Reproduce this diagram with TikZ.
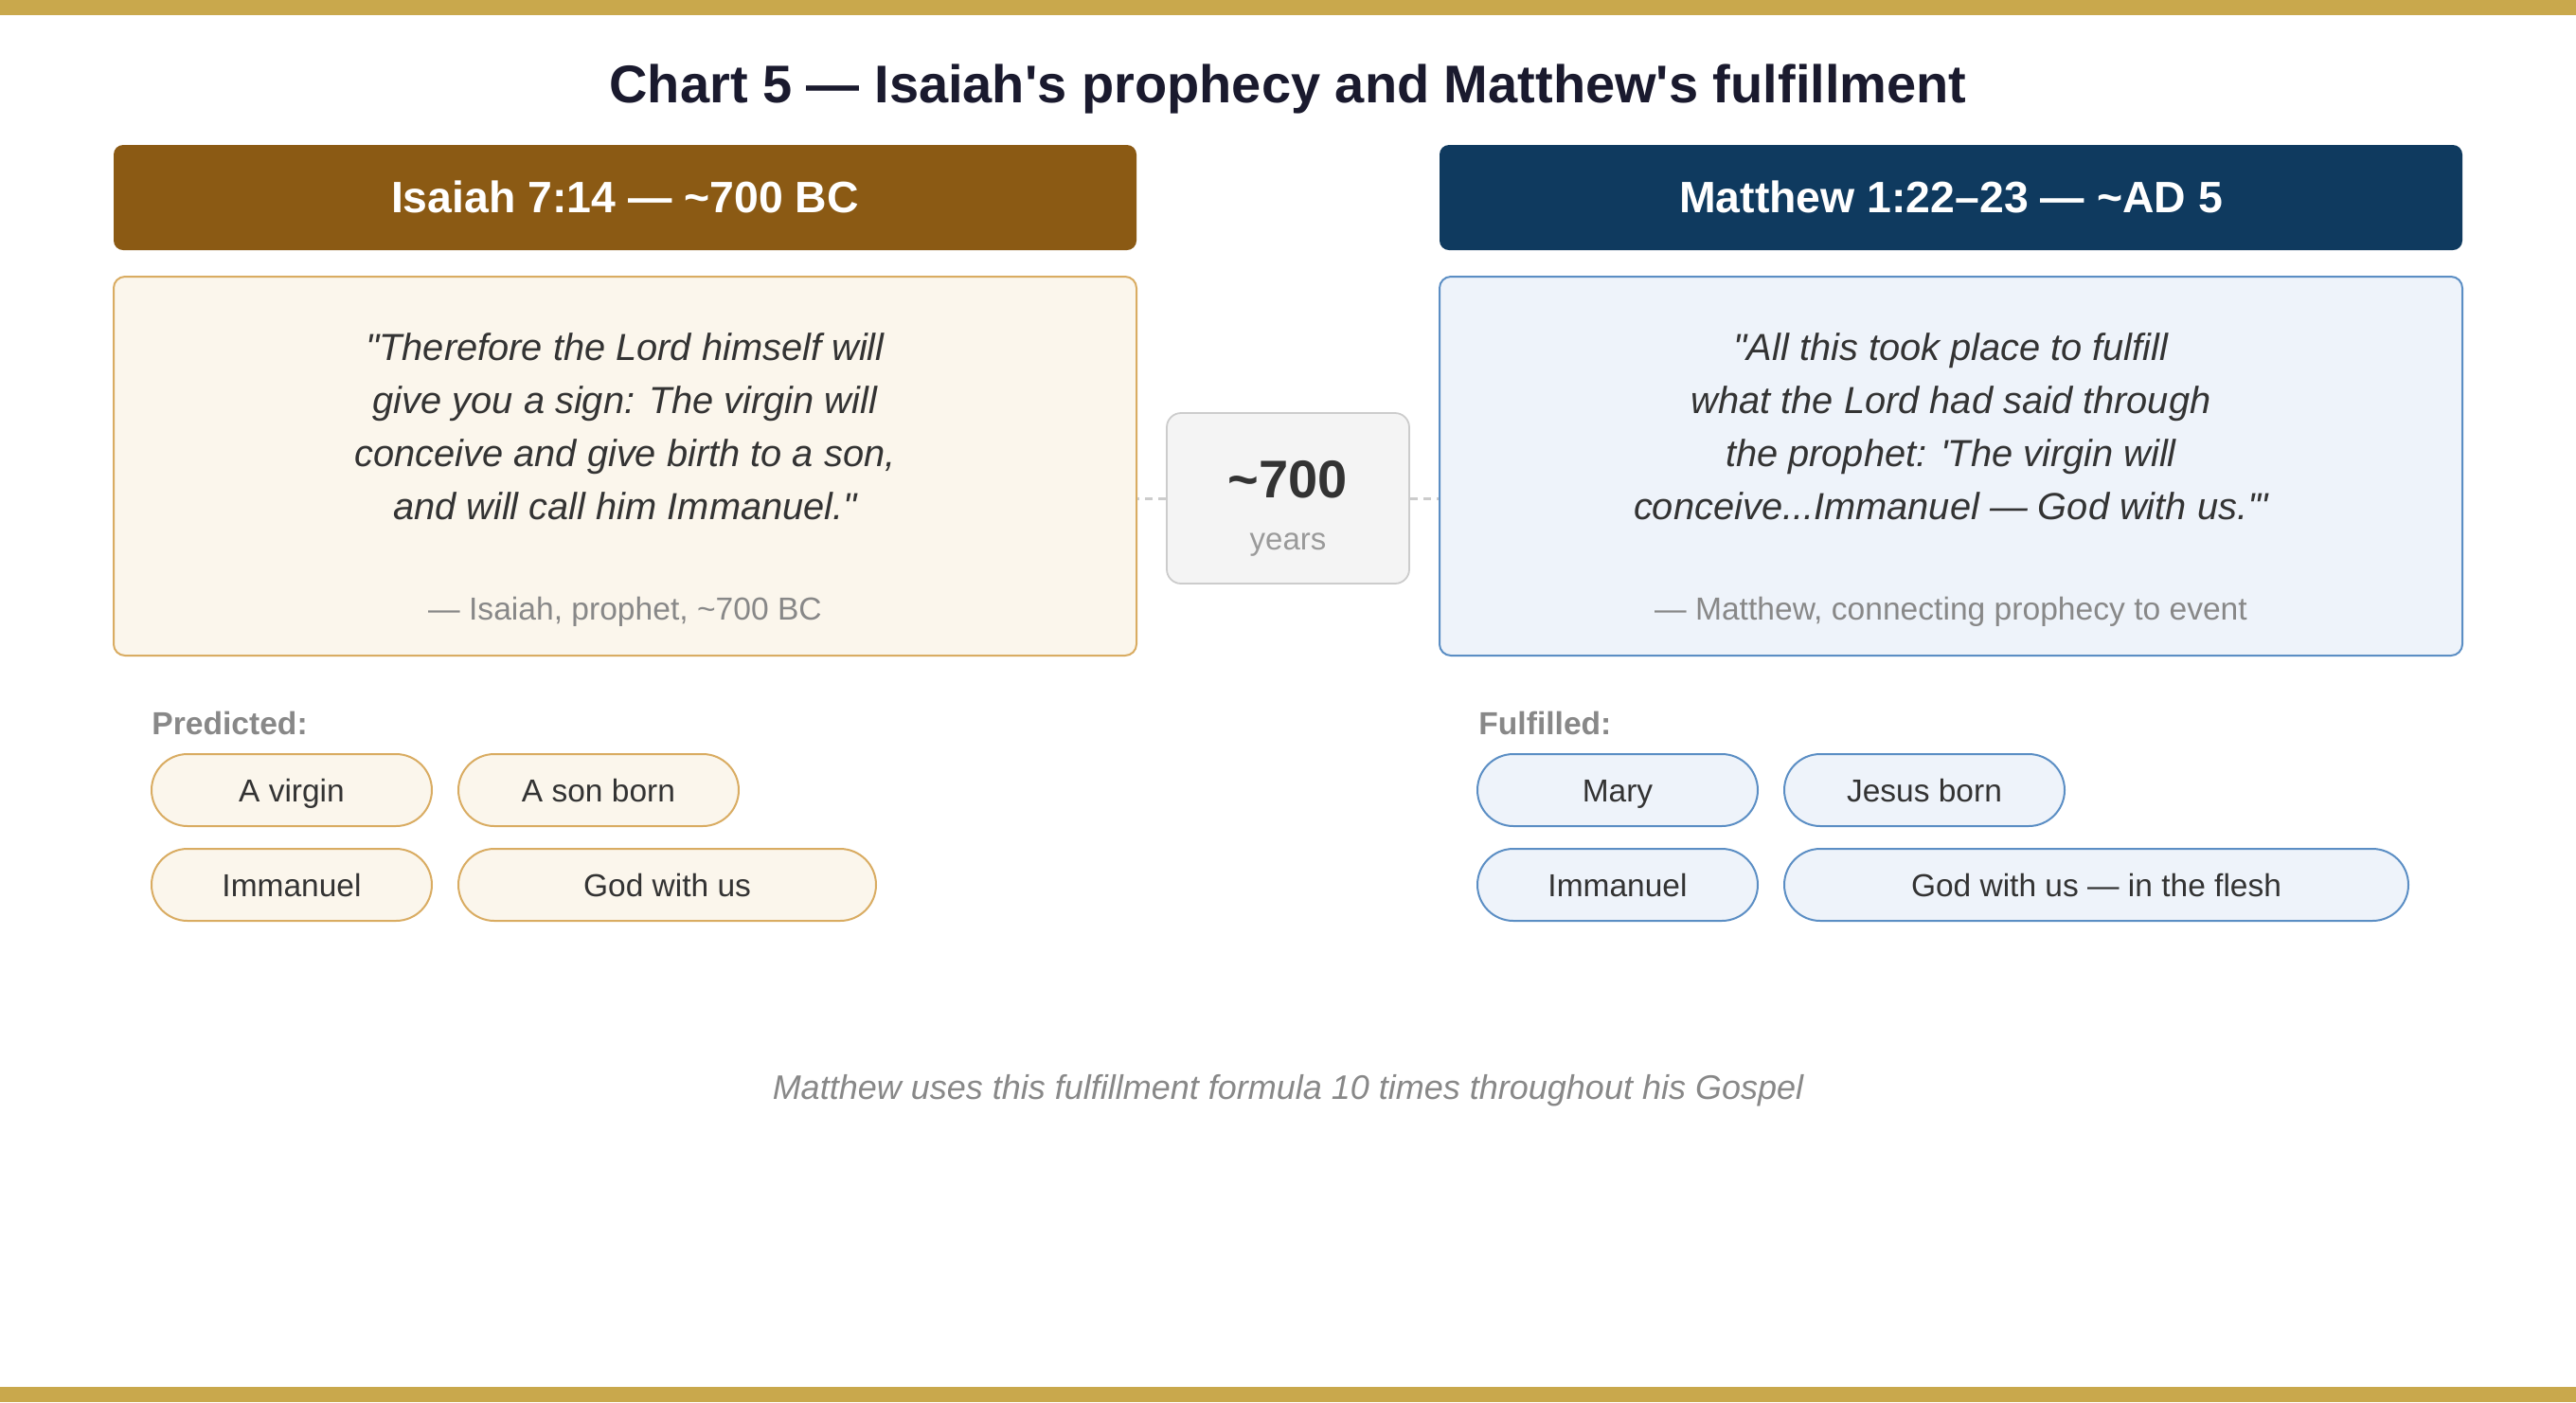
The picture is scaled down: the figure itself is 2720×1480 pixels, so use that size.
\documentclass[tikz,border=0pt]{standalone}
\usepackage{fontspec}
\setmainfont{Liberation Sans}[Ligatures=TeXOff]
\usetikzlibrary{positioning}
\definecolor{gold}{HTML}{C9A84C}
\definecolor{titleink}{HTML}{1A1A2E}
\definecolor{ink}{HTML}{333333}
\definecolor{muted}{HTML}{888888}
\definecolor{brownhead}{HTML}{8B5A14}
\definecolor{navyhead}{HTML}{0F3A5F}
\definecolor{cream}{HTML}{FBF6EC}
\definecolor{creamline}{HTML}{D9AC62}
\definecolor{pale}{HTML}{EEF3FA}
\definecolor{paleline}{HTML}{5B8EC4}
\definecolor{gapfill}{HTML}{F4F4F4}
\definecolor{gapline}{HTML}{CCCCCC}

\begin{document}
\begin{tikzpicture}[x=0.5pt,y=-0.5pt,header/.style={rectangle, rounded corners=5pt, minimum width=540pt, minimum height=55.5pt, inner sep=0pt, text=white, font=\fontsize{23}{27}\selectfont\bfseries}]
    \tikzset{quotebox/.style={rectangle, rounded corners=6pt, line width=1pt, minimum width=540pt, minimum height=200pt, inner sep=0pt}}
    \tikzset{quote/.style={align=center, inner sep=0pt, text=ink, font=\fontsize{19.9}{28}\selectfont\itshape},
    byline/.style={anchor=base, inner sep=0pt, text=muted, font=\fontsize{16.8}{20}\selectfont}}
    \tikzset{tag/.style={rectangle, rounded corners=19pt, line width=1pt, minimum width=148pt, minimum height=38pt, inner sep=0pt, text=ink, text height=12pt, text depth=0pt, font=\fontsize{16.75}{20}\selectfont},
    %predicted side is gold, fulfilled side is blue
    oldtag/.style={tag, draw=creamline, fill=cream}, newtag/.style={tag, draw=paleline, fill=pale},
    lead/.style={anchor=base west, inner sep=0pt, text=muted, font=\fontsize{16.8}{20}\selectfont\bfseries}}
    \def \gapx {13pt} \def \gapy {11pt}

    \useasboundingbox (0,0) rectangle (2720,1480);
    \fill[gold] (0,0) rectangle (2720,16);
    \fill[gold] (0,1464) rectangle (2720,1480);

    \node[anchor=base, inner sep=0pt, text=titleink, font=\fontsize{28}{32}\selectfont\bfseries] (title) at (1360,108) {Chart 5 — Isaiah's prophecy and Matthew's fulfillment};

    \node[header, fill=brownhead] (isaiahhead) at (660,208.5) {};
    \node[anchor=base, inner sep=0pt, text=white, font=\fontsize{23.2}{27}\selectfont\bfseries] (isaiahref) at (660,224) {Isaiah 7:14 — \textasciitilde700 BC};
    \node[header, fill=navyhead] (matthewhead) at (2060,208.5) {};
    \node[anchor=base, inner sep=0pt, text=white, font=\fontsize{23.2}{27}\selectfont\bfseries] (matthewref) at (2060,224) {Matthew 1:22–23 — \textasciitilde AD 5};

    \node[quotebox, draw=creamline, fill=cream] (isaiah) at (660,492) {};
    \node[quote] (isaiahtext) at (660,450) {"Therefore the Lord himself will\\give you a sign: The virgin will\\conceive and give birth to a son,\\and will call him Immanuel."};
    \node[byline] (isaiahby) at (660,654) {— Isaiah, prophet, \textasciitilde700 BC};

    \node[quotebox, draw=paleline, fill=pale] (matthew) at (2060,492) {};
    \node[quote] (matthewtext) at (2060,450) {"All this took place to fulfill\\what the Lord had said through\\the prophet: 'The virgin will\\conceive...Immanuel — God with us.'"};
    \node[byline] (matthewby) at (2060,654) {— Matthew, connecting prophecy to event};

    \node[rectangle, rounded corners=7.5pt, draw=gapline, line width=0.9pt, fill=gapfill, minimum width=128pt, minimum height=90pt] (gap) at (1360,526) {};
    \node[anchor=base, inner sep=0pt, text=ink, font=\fontsize{28}{32}\selectfont\bfseries] (span) at (1360,525) {\textasciitilde700};
    \node[anchor=base, inner sep=0pt, text=muted!85, font=\fontsize{16.5}{20}\selectfont] (years) at (1360,580) {years};
    \draw[gapline, line width=1.5pt, dash pattern=on 4pt off 3pt] (gap.west) -- (gap.west -| isaiah.east);
    \draw[gapline, line width=1.5pt, dash pattern=on 4pt off 3pt] (gap.east) -- (gap.east -| matthew.west);

    \node[lead] (predicted) at (160,775) {Predicted:};
    \node[oldtag] (virgin) at (308,834) {A virgin};
    \node[oldtag, right=\gapx of virgin] (son) {A son born};
    \node[oldtag, below=\gapy of virgin] (immanuel) {Immanuel};
    \node[oldtag, minimum width=220.5pt, right=\gapx of immanuel] (withus) {God with us};

    \node[lead] (fulfilled) at (1561,775) {Fulfilled:};
    \node[newtag] (mary) at (1708,834) {Mary};
    \node[newtag, right=\gapx of mary] (jesus) {Jesus born};
    \node[newtag, below=\gapy of mary] (immanuelb) {Immanuel};
    \node[newtag, minimum width=329.5pt, right=\gapx of immanuelb] (flesh) {God with us — in the flesh};

    \node[anchor=base, inner sep=0pt, text=muted, font=\fontsize{18}{22}\selectfont\itshape] (formula) at (1360,1160) {Matthew uses this fulfillment formula 10 times throughout his Gospel};
\end{tikzpicture}
\end{document}
